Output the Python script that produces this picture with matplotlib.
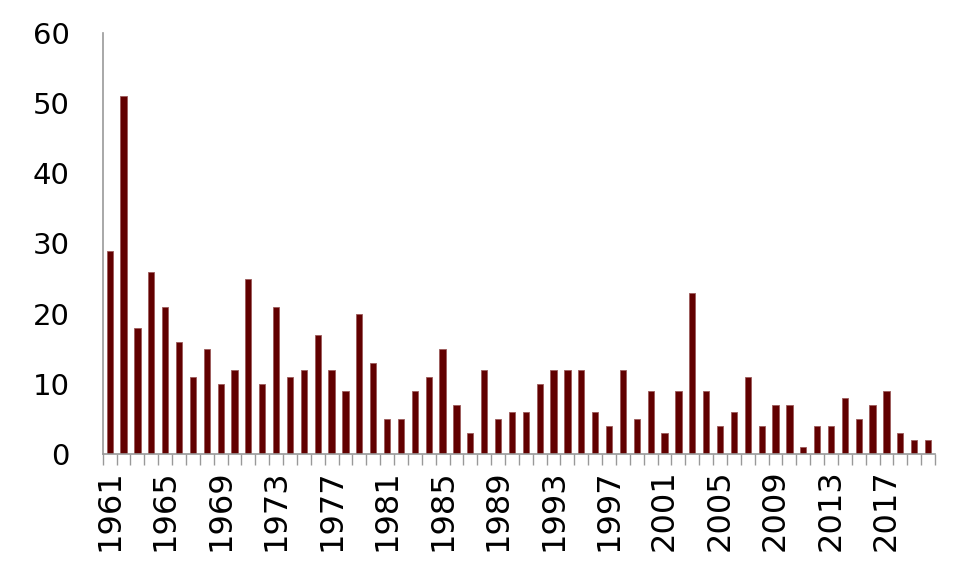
import numpy as np
import matplotlib.pyplot as plt

years = list(range(1961, 2021))
counts = [29, 51, 18, 26, 21, 16, 11, 15, 10, 12,
          25, 10, 21, 11, 12, 17, 12, 9, 20, 13,
          5, 5, 9, 11, 15, 7, 3, 12, 5, 6,
          6, 10, 12, 12, 12, 6, 4, 12, 5, 9,
          3, 9, 23, 9, 4, 6, 11, 4, 7, 7,
          1, 4, 4, 8, 5, 7, 9, 3, 2, 2]
label_years = list(range(1961, 2018, 4))
y_ticks = [0, 10, 20, 30, 40, 50, 60]

plt.rcParams['font.family'] = ['DejaVu Sans']

fig = plt.figure(figsize=(9.6, 5.77), dpi=100)
ax = fig.add_axes([0.107, 0.213, 0.867, 0.73])

x = np.arange(len(years))
ax.bar(x, counts, width=0.45, color='#620000', edgecolor='#9c5a5a', linewidth=0.6)

ax.set_xlim(-0.5, len(years) - 0.5)
ax.set_ylim(0, 60)
ax.set_yticks(y_ticks)
ax.tick_params(axis='y', length=0, labelsize=21, pad=24)

# label every 4th year, tick marks between categories
ax.set_xticks([years.index(y) for y in label_years])
ax.set_xticklabels([str(y) for y in label_years], rotation=90, fontsize=23)
ax.tick_params(axis='x', which='major', length=0, pad=11)
ax.set_xticks(np.arange(-0.5, len(years)), minor=True)
ax.tick_params(axis='x', which='minor', length=8, color='#999999', width=1)

for s in ['top', 'right']:
    ax.spines[s].set_visible(False)
for s in ['left', 'bottom']:
    ax.spines[s].set_color('#999999')
    ax.spines[s].set_linewidth(1.2)

fig.savefig('out.png', dpi=100)
